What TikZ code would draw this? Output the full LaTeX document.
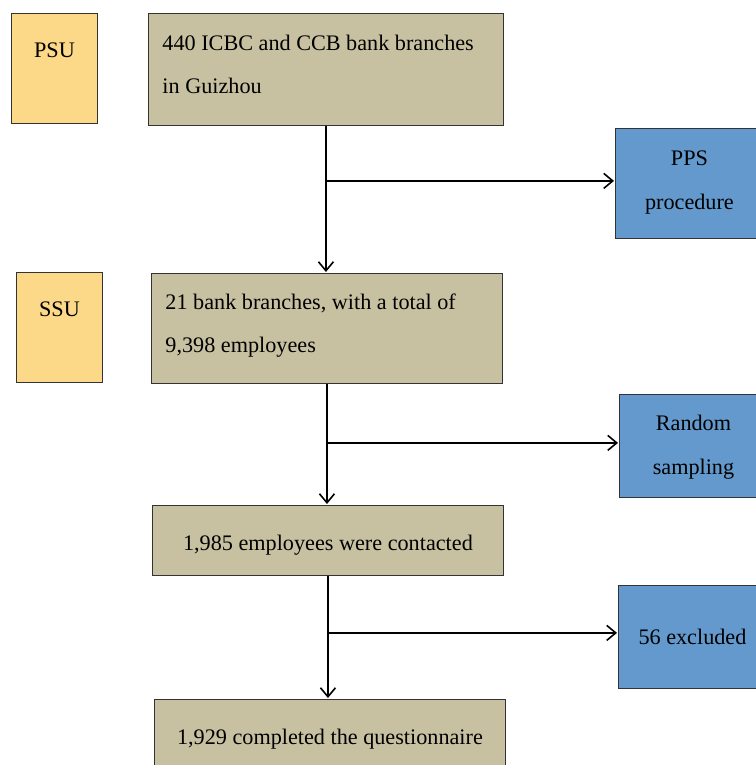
\documentclass[tikz,border=0pt]{standalone}
\usepackage{fontspec}
\setmainfont{Liberation Serif}
\usetikzlibrary{arrows.meta,positioning}
\definecolor{boxtan}{RGB}{199,193,162}
\definecolor{boxgold}{RGB}{252,216,137}
\definecolor{boxblue}{RGB}{99,153,205}

\begin{document}
\begin{tikzpicture}[x=1pt,y=-1pt,->,>={Straight Barb[length=9pt,width=15pt]},
            shorten >=1pt,line width=1.6pt,
            mainbox/.style={draw=black!80,fill=boxtan,line width=0.9pt,
                minimum width=351pt,inner xsep=14pt,inner ysep=0pt,anchor=north west,
                font=\fontsize{22.2}{43.5}\selectfont},
            unitbox/.style={draw=black!80,fill=boxgold,line width=0.9pt,
                minimum width=86pt,inner xsep=4pt,inner ysep=0pt,anchor=north west,
                text height=44pt,text depth=66pt,font=\fontsize{22.2}{43.5}\selectfont},
            stepbox/.style={draw=black!80,fill=boxblue,line width=0.9pt,
                minimum width=148pt,align=center,inner ysep=0pt,anchor=north west,
                font=\fontsize{22.2}{43.5}\selectfont}]
            \useasboundingbox (0,0) rectangle (755,765);

            % Define the boxes of the sampling stages
            \node[mainbox,text height=37pt,text depth=75pt,text width=327pt,
                align=flush left,minimum width=355pt]
                (B0) at (148,13) {440 ICBC and CCB bank branches\\in Guizhou};
            \node[mainbox,text height=36pt,text depth=74pt,text width=323pt,align=flush left]
                (B1) at (151,273) {21 bank branches, with a total of\\9,398 employees};
            \node[mainbox,text height=45pt,text depth=25pt] (B2) at (152,505) {1,985 employees were contacted};
            \node[mainbox,text height=45pt,text depth=25pt] (B3) at (154,699) {1,929 completed the questionnaire};

            % Units and procedures
            \node[unitbox] (U0) at (11,13)  {PSU};
            \node[unitbox] (U1) at (16,272) {SSU};
            \node[stepbox,text height=81pt,text depth=29pt] (P0) at (615,128) {PPS\\procedure};
            \node[stepbox,text height=80pt,text depth=23pt] (P1) at (619,394) {Random\\sampling};
            \node[stepbox,text height=59pt,text depth=44pt] (P2) at (618,585) {56 excluded};

            % Connect the boxes with arrows
            \path (B0.south) ++(0,55) coordinate (J0);
            \path (B1.south) ++(0,59) coordinate (J1);
            \path (B2.south) ++(0,57) coordinate (J2);

            \draw (B0.south) -- (B0.south |- B1.north);
            \draw (J0) -- (J0 -| P0.west);

            \draw (B1.south) -- (B1.south |- B2.north);
            \draw (J1) -- (J1 -| P1.west);

            \draw (B2.south) -- (B2.south |- B3.north);
            \draw (J2) -- (J2 -| P2.west);

        \end{tikzpicture}
\end{document}
